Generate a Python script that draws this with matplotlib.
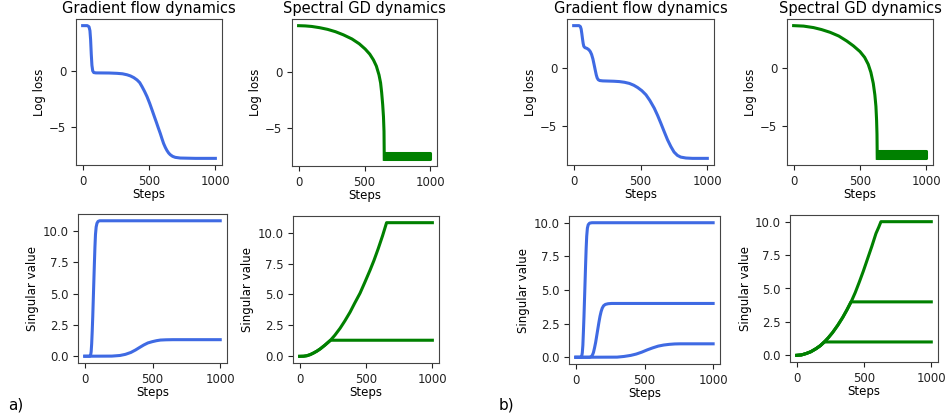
import matplotlib
matplotlib.use("Agg")
import matplotlib.pyplot as plt

# ---- a) data ----
a_gf_loss_steps = [0, 35, 48, 55, 60, 65, 70, 76, 84, 100, 200, 260, 300, 335, 360, 385, 410, 430, 448, 467, 485, 505, 523, 540, 555, 570, 585, 598, 610, 623, 635, 648, 660, 678, 698, 735, 850, 1000]
a_gf_loss = [4.05, 4.05, 3.95, 3.6, 2.8, 1.5, 0.5, 0.0, -0.15, -0.18, -0.19, -0.22, -0.26, -0.35, -0.45, -0.6, -0.81, -1.05, -1.42, -1.85, -2.3, -2.9, -3.5, -4.08, -4.58, -5.1, -5.6, -6.08, -6.5, -6.85, -7.12, -7.35, -7.5, -7.65, -7.74, -7.8, -7.83, -7.83]

a_sgd_loss_steps = [0, 50, 100, 160, 220, 280, 340, 405, 460, 505, 540, 568, 590, 610, 622, 630, 638, 644, 648, 650]
a_sgd_loss = [4.17, 4.15, 4.1, 3.99, 3.84, 3.63, 3.35, 2.98, 2.55, 2.08, 1.62, 1.1, 0.55, -0.24, -0.95, -1.8, -2.9, -4.0, -5.3, -7.8]
a_band_steps = [650, 1000]
a_band_low = [-7.75, -7.75]
a_band_high = [-7.2, -7.2]

a_gf_sv_steps = [0, 38, 43, 47, 51, 55, 59, 63, 67, 71, 75, 79, 84, 90, 98, 110, 1000]
a_gf_sv_top = [0.0, 0.0, 0.08, 0.35, 1.0, 2.0, 3.2, 4.6, 6.0, 7.4, 8.7, 9.7, 10.3, 10.6, 10.75, 10.8, 10.8]
a_gf_sv_low_steps = [0, 200, 260, 300, 340, 375, 405, 436, 466, 498, 530, 559, 600, 650, 1000]
a_gf_sv_low = [0.0, 0.01, 0.06, 0.15, 0.3, 0.5, 0.7, 0.9, 1.06, 1.16, 1.24, 1.29, 1.31, 1.32, 1.32]

a_sgd_sv_steps = [0, 30, 55, 80, 105, 130, 155, 190, 230, 265, 305, 340, 380, 415, 455, 490, 530, 560, 592, 625, 655, 1000]
a_sgd_sv_top = [0.0, 0.01, 0.05, 0.14, 0.27, 0.42, 0.6, 0.9, 1.27, 1.7, 2.27, 2.85, 3.57, 4.3, 5.1, 5.95, 6.95, 7.75, 8.7, 9.75, 10.8, 10.8]
a_sgd_sv_low_steps = [0, 30, 55, 80, 105, 130, 155, 190, 232, 1000]
a_sgd_sv_low = [0.0, 0.01, 0.05, 0.14, 0.27, 0.42, 0.6, 0.9, 1.3, 1.3]

# ---- b) data ----
b_gf_loss_steps = [0, 40, 50, 56, 61, 66, 71, 76, 84, 100, 114, 124, 134, 144, 154, 162, 169, 176, 184, 195, 218, 300, 342, 380, 417, 450, 479, 510, 541, 570, 603, 628, 652, 677, 702, 727, 751, 776, 801, 840, 888, 1000]
b_gf_loss = [3.7, 3.7, 3.62, 3.4, 3.0, 2.55, 2.15, 1.9, 1.79, 1.72, 1.6, 1.45, 1.2, 0.8, 0.25, -0.2, -0.58, -0.85, -1.0, -1.07, -1.1, -1.13, -1.16, -1.22, -1.32, -1.48, -1.68, -1.95, -2.31, -2.8, -3.47, -4.1, -4.77, -5.5, -6.21, -6.8, -7.28, -7.57, -7.72, -7.8, -7.83, -7.83]

b_sgd_loss_steps = [0, 75, 150, 210, 275, 340, 400, 450, 500, 535, 562, 582, 600, 612, 620, 625, 628, 630]
b_sgd_loss = [3.7, 3.66, 3.53, 3.36, 3.12, 2.8, 2.37, 1.95, 1.45, 0.95, 0.35, -0.35, -1.3, -2.3, -3.3, -4.5, -5.7, -7.8]
b_band_steps = [630, 1000]
b_band_low = [-7.75, -7.75]
b_band_high = [-7.2, -7.2]

b_gf_sv_steps = [0, 38, 43, 47, 51, 55, 59, 63, 67, 71, 75, 79, 84, 90, 100, 117, 1000]
b_gf_sv_top = [0.0, 0.0, 0.08, 0.35, 0.9, 1.9, 3.0, 4.3, 5.6, 6.9, 8.1, 9.0, 9.6, 9.85, 9.97, 10.0, 10.0]
b_gf_sv_mid_steps = [0, 100, 112, 120, 128, 136, 144, 152, 160, 168, 176, 184, 192, 202, 215, 235, 260, 1000]
b_gf_sv_mid = [0.0, 0.0, 0.05, 0.15, 0.35, 0.7, 1.1, 1.6, 2.1, 2.6, 3.05, 3.4, 3.65, 3.83, 3.93, 3.98, 4.0, 4.0]
b_gf_sv_low_steps = [0, 300, 350, 400, 440, 480, 520, 560, 600, 640, 680, 720, 760, 1000]
b_gf_sv_low = [0.0, 0.01, 0.06, 0.14, 0.24, 0.38, 0.55, 0.7, 0.83, 0.91, 0.96, 0.99, 1.0, 1.0]

b_sgd_sv_steps = [0, 35, 69, 105, 144, 175, 205, 235, 267, 305, 342, 372, 403, 435, 465, 495, 527, 558, 589, 610, 626, 1000]
b_sgd_sv_top = [0.0, 0.03, 0.13, 0.27, 0.5, 0.72, 1.0, 1.32, 1.71, 2.25, 2.84, 3.38, 3.97, 4.7, 5.48, 6.3, 7.24, 8.15, 9.12, 9.6, 10.0, 10.0]
b_sgd_sv_mid_steps = [0, 35, 69, 105, 144, 175, 205, 235, 267, 305, 342, 372, 403, 1000]
b_sgd_sv_mid = [0.0, 0.03, 0.13, 0.27, 0.5, 0.72, 1.0, 1.32, 1.71, 2.25, 2.84, 3.38, 4.0, 4.0]
b_sgd_sv_low_steps = [0, 35, 69, 105, 144, 175, 205, 1000]
b_sgd_sv_low = [0.0, 0.03, 0.13, 0.27, 0.5, 0.72, 1.0, 1.0]

blue = "#3f6ae3"
green = "#008000"
lw = 2.2

W, H = 948, 419
fig = plt.figure(figsize=(W / 100, H / 100), dpi=100)


def box(left, right, top, bottom):
    return [left / W, 1 - bottom / H, (right - left) / W, (bottom - top) / H]


def style(ax, ylabel, yticks, ylabels, title=None):
    ax.set_xticks([0, 500, 1000])
    ax.set_yticks(yticks)
    ax.set_yticklabels(ylabels)
    ax.tick_params(labelsize=8.5, length=3.5, width=0.8, colors="#222222")
    ax.set_xlabel("Steps", fontsize=8.5, labelpad=0)
    ax.set_ylabel(ylabel, fontsize=8.5, labelpad=2)
    for sp in ax.spines.values():
        sp.set_color("#444444")
        sp.set_linewidth(0.8)
    if title:
        ax.set_title(title, fontsize=10.5, pad=4)


loss_ticks = [-5, 0]
loss_labels = ["\u22125", "0"]
sv_ticks = [0, 2.5, 5, 7.5, 10]
sv_labels = ["0.0", "2.5", "5.0", "7.5", "10.0"]

# a) top left
ax = fig.add_axes(box(76, 222, 19, 165))
ax.plot(a_gf_loss_steps, a_gf_loss, color=blue, lw=lw)
style(ax, "Log loss", loss_ticks, loss_labels, "Gradient flow dynamics")

# a) top right
ax = fig.add_axes(box(292, 437, 19, 166))
ax.plot(a_sgd_loss_steps, a_sgd_loss, color=green, lw=lw)
ax.fill_between(a_band_steps, a_band_low, a_band_high, color=green, lw=lw)
style(ax, "Log loss", loss_ticks, loss_labels, "Spectral GD dynamics")

# a) bottom left
ax = fig.add_axes(box(78, 227, 214, 363))
ax.plot(a_gf_sv_steps, a_gf_sv_top, color=blue, lw=lw)
ax.plot(a_gf_sv_low_steps, a_gf_sv_low, color=blue, lw=lw)
style(ax, "Singular value", sv_ticks, sv_labels)

# a) bottom right
ax = fig.add_axes(box(293, 439, 216, 363))
ax.plot(a_sgd_sv_steps, a_sgd_sv_top, color=green, lw=lw)
ax.plot(a_sgd_sv_low_steps, a_sgd_sv_low, color=green, lw=lw)
style(ax, "Singular value", sv_ticks, sv_labels)

# b) top left
ax = fig.add_axes(box(567, 714, 19, 165))
ax.plot(b_gf_loss_steps, b_gf_loss, color=blue, lw=lw)
style(ax, "Log loss", loss_ticks, loss_labels, "Gradient flow dynamics")

# b) top right
ax = fig.add_axes(box(787, 933, 19, 165))
ax.plot(b_sgd_loss_steps, b_sgd_loss, color=green, lw=lw)
ax.fill_between(b_band_steps, b_band_low, b_band_high, color=green, lw=lw)
style(ax, "Log loss", loss_ticks, loss_labels, "Spectral GD dynamics")

# b) bottom left
ax = fig.add_axes(box(569, 720, 216, 364))
ax.plot(b_gf_sv_steps, b_gf_sv_top, color=blue, lw=lw)
ax.plot(b_gf_sv_mid_steps, b_gf_sv_mid, color=blue, lw=lw)
ax.plot(b_gf_sv_low_steps, b_gf_sv_low, color=blue, lw=lw)
style(ax, "Singular value", sv_ticks, sv_labels)

# b) bottom right
ax = fig.add_axes(box(790, 938, 215, 362))
ax.plot(b_sgd_sv_steps, b_sgd_sv_top, color=green, lw=lw)
ax.plot(b_sgd_sv_mid_steps, b_sgd_sv_mid, color=green, lw=lw)
ax.plot(b_sgd_sv_low_steps, b_sgd_sv_low, color=green, lw=lw)
style(ax, "Singular value", sv_ticks, sv_labels)

fig.text(8 / W, 1 - 405 / H, "a)", fontsize=11, va="center")
fig.text(499 / W, 1 - 405 / H, "b)", fontsize=11, va="center")

fig.savefig("out.png", dpi=100)
